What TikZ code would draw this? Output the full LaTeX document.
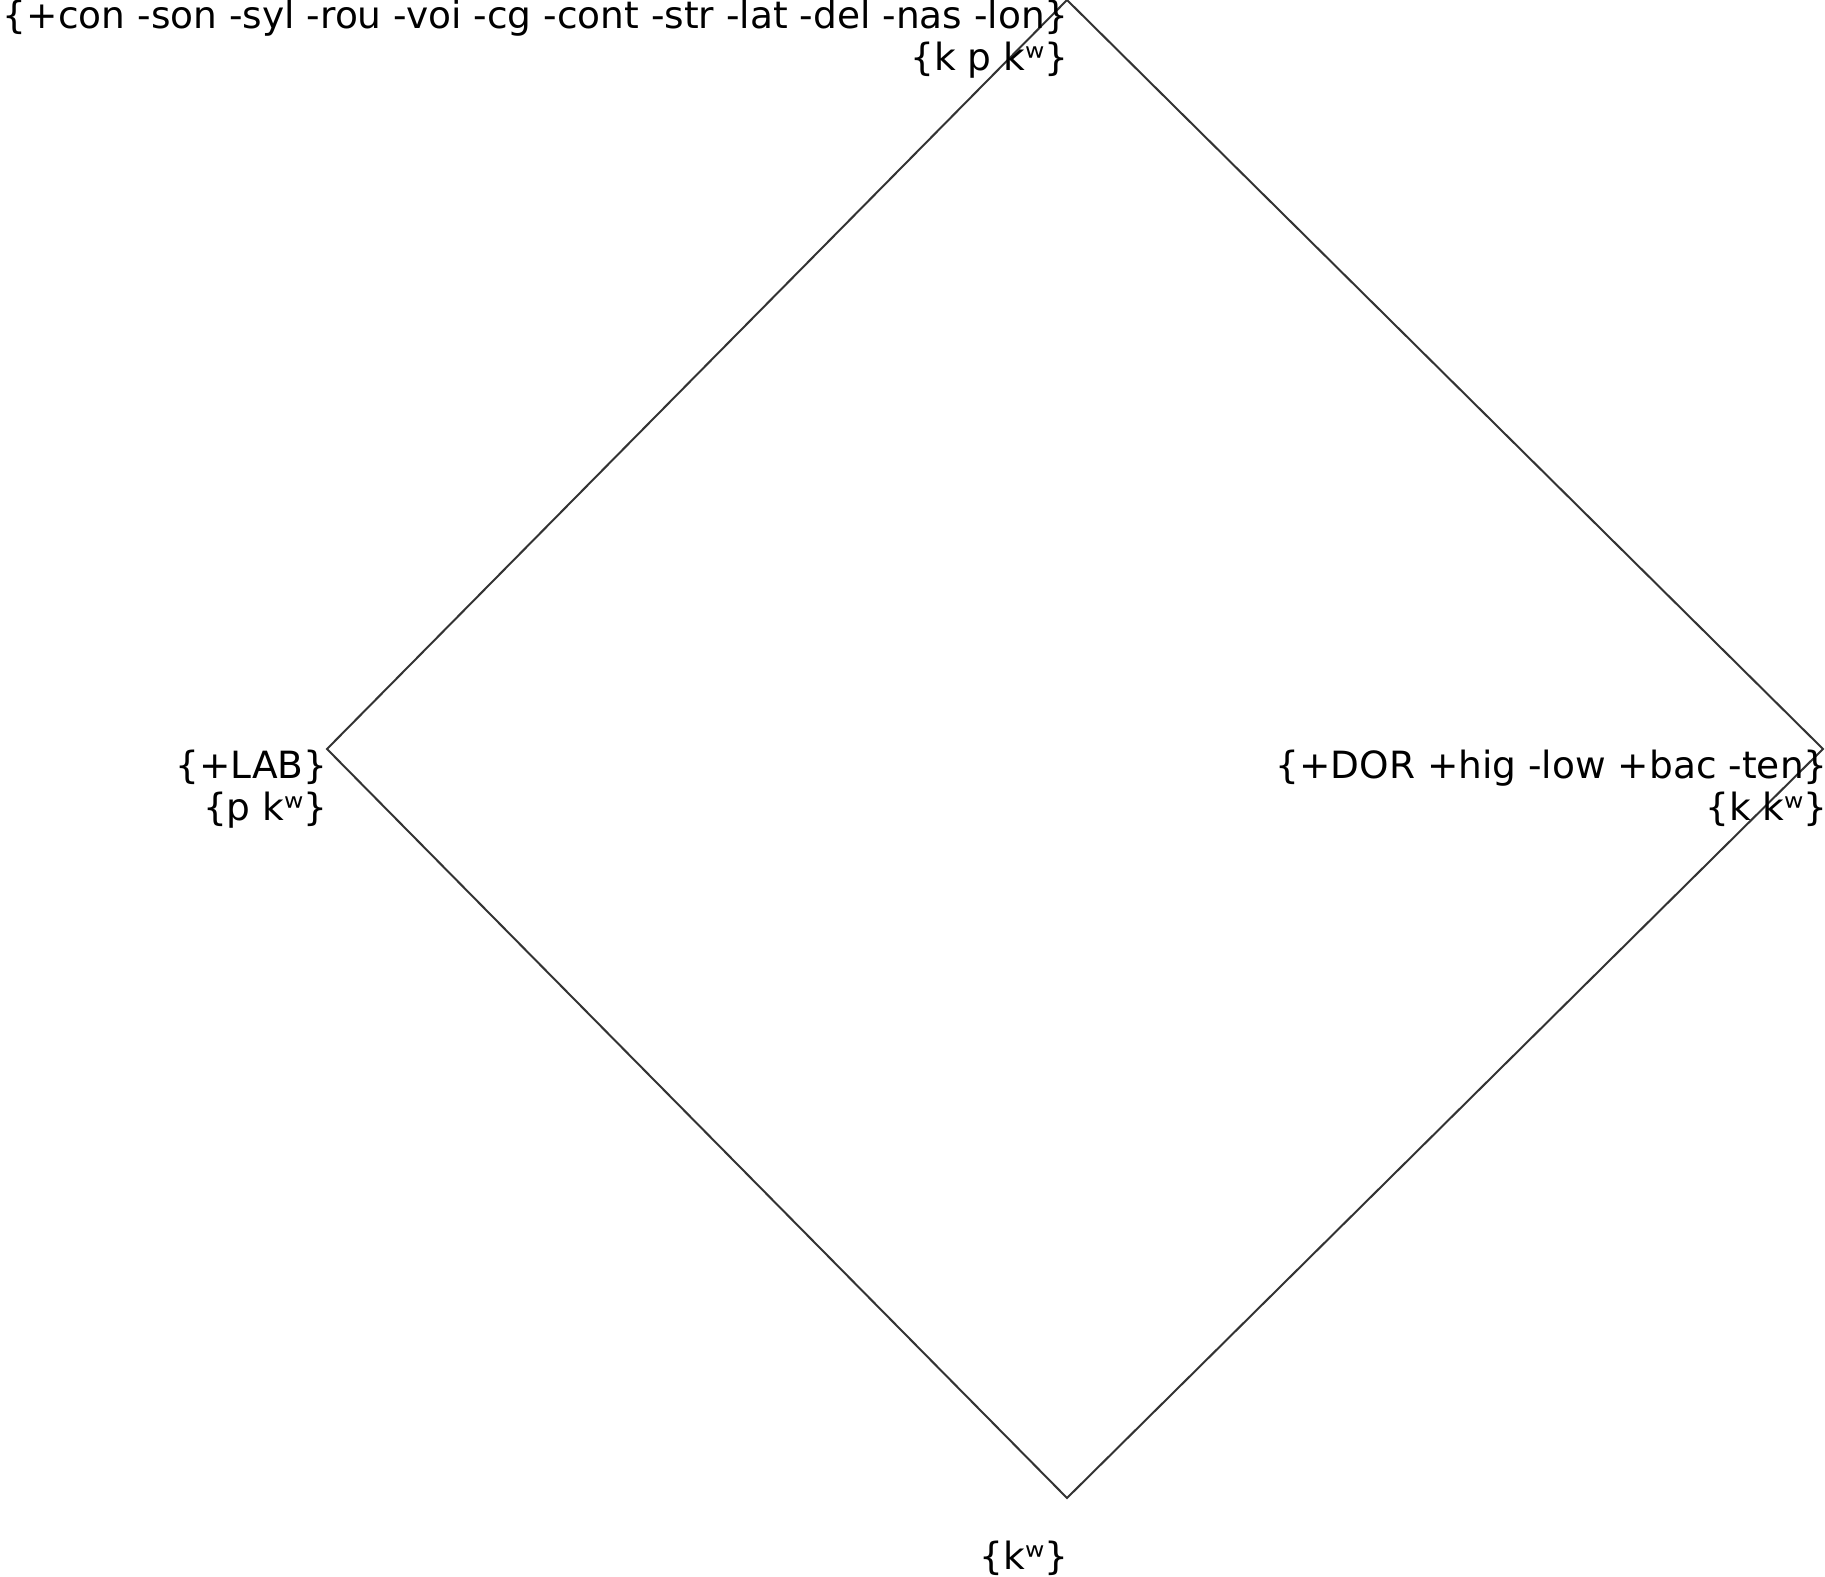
\documentclass[tikz,border=0pt]{standalone}
\usepackage{fontspec}
\setmainfont{DejaVu Sans}
\begin{document}
\begin{tikzpicture}[x=0.5pt,y=-0.5pt,
    lab/.style={align=right,inner sep=0pt,font=\fontsize{18.75}{21}\selectfont}]
  \useasboundingbox (0,0) rectangle (1825,1577);
  % corners of the lattice
  \coordinate (top) at (1067,0);
  \coordinate (lft) at (327,749);
  \coordinate (rgt) at (1823,749);
  \coordinate (bot) at (1067,1498);
  \draw[line width=1pt,black!80] (top) -- (rgt) -- (bot) -- (lft) -- cycle;
  % labels
  \node[lab,anchor=north east] (toplab) at (1069,0) {\{+con -son -syl -rou -voi -cg -cont -str -lat -del -nas -lon\}\\\{k p kʷ\}};
  \node[lab,anchor=north east] (lftlab) at (328,750) {\{+LAB\}\\\{p kʷ\}};
  \node[lab,anchor=north east] (rgtlab) at (1828,750) {\{+DOR +hig -low +bac -ten\}\\\{k kʷ\}};
  \node[lab,anchor=base east] (botlab) at (1069,1569) {\{kʷ\}};
\end{tikzpicture}
\end{document}
